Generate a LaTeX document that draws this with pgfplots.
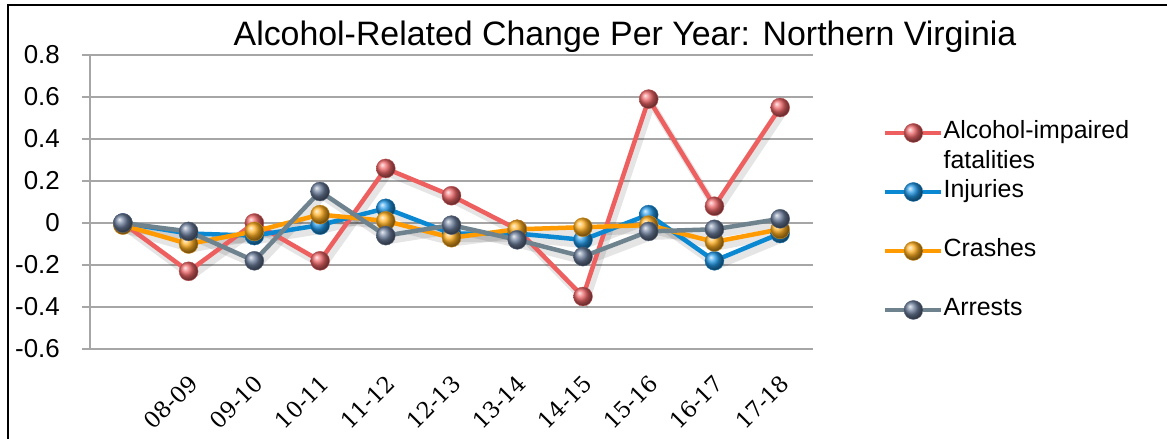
\documentclass[border=0pt]{standalone}
\usepackage{pgfplots}
\pgfplotsset{compat=1.18}
\usepackage{pgfplotstable}
\usepackage{fontspec}
\setmainfont{Liberation Sans}
\newfontfamily\xfont{DejaVu Serif}
\definecolor{cred}{HTML}{EE5F5F}
\definecolor{cblue}{HTML}{0A88D2}
\definecolor{corange}{HTML}{FF9A00}
\definecolor{cgray}{HTML}{6F838F}
\definecolor{bred}{HTML}{EC6466}
\definecolor{bblue}{HTML}{2096E4}
\definecolor{borange}{HTML}{FFAE20}
\definecolor{bgray}{HTML}{6A7C9A}
\definecolor{gridc}{HTML}{A6A6A6}
\pgfplotstableread{
x red blue orange gray
0 0 0 -0.01 0
1 -0.23 -0.05 -0.10 -0.04
2 0.00 -0.06 -0.04 -0.18
3 -0.18 -0.01 0.04 0.15
4 0.26 0.07 0.01 -0.06
5 0.13 -0.05 -0.07 -0.01
6 -0.03 -0.05 -0.03 -0.08
7 -0.35 -0.08 -0.02 -0.16
8 0.59 0.04 -0.01 -0.04
9 0.08 -0.18 -0.09 -0.03
10 0.55 -0.05 -0.03 0.02
}\data
\begin{document}
\begin{tikzpicture}
\begin{axis}[
  at={(90bp,-349bp)}, anchor=south west,
  scale only axis, width=723bp, height=294bp,
  xmin=-0.5, xmax=10.5, ymin=-0.6, ymax=0.8,
  ytick={-0.6,-0.4,-0.2,0,0.2,0.4,0.6,0.8},
  xtick={1,2,3,4,5,6,7,8,9,10},
  xticklabels={08-09,09-10,10-11,11-12,12-13,13-14,14-15,15-16,16-17,17-18},
  axis lines=left, axis line style={-, draw=gridc, line width=1.7bp},
  ymajorgrids, grid style={draw=gridc, line width=1.7bp},
  tick align=outside, major tick length=8bp,
  ytick style={draw=gridc, line width=1.7bp},
  xtick style={draw=none},
  /pgf/number format/assume math mode=true,
  y tick label style={font=\fontsize{26}{30}\selectfont, anchor=east, inner sep=0pt, xshift=-22bp},
  x tick label style={font=\xfont\fontsize{22.5}{27}\selectfont, yshift=-22bp, xshift=5bp, rotate=45, anchor=east, inner sep=0pt},
  legend style={at={(1.0968,0.773)}, anchor=north west, draw=none, fill=none, inner sep=0pt,
    row sep=37bp, column sep=0bp,
    nodes={inner sep=0pt, text height=17bp, text depth=5bp, font=\fontsize{25}{30}\selectfont}},
  legend cell align=left,
  legend image code/.code={\draw[mark repeat=2,mark phase=2,#1] plot coordinates {(0bp,0bp) (28bp,0bp) (56bp,0bp)};},
  clip=false,
]
\addplot[forget plot, draw=black, opacity=0.10, line width=7bp, xshift=3bp, yshift=-5bp] table[x=x,y=red]{\data};
\addplot[forget plot, draw=black, opacity=0.10, line width=7bp, xshift=3bp, yshift=-5bp] table[x=x,y=blue]{\data};
\addplot[forget plot, draw=black, opacity=0.10, line width=7bp, xshift=3bp, yshift=-5bp] table[x=x,y=orange]{\data};
\addplot[forget plot, draw=black, opacity=0.10, line width=7bp, xshift=3bp, yshift=-5bp] table[x=x,y=gray]{\data};
\addplot[cred, line width=4.5bp, mark=ball, mark size=9.5bp, mark options={line width=0.4bp, draw=bred!80!black, ball color=bred}] table[x=x,y=red]{\data};
\addlegendentry{{\begin{tabular}[t]{@{}l@{}}Alcohol-impaired\\fatalities\end{tabular}}}
\addplot[cblue, line width=4.5bp, mark=ball, mark size=9.5bp, mark options={line width=0.4bp, draw=bblue!80!black, ball color=bblue}] table[x=x,y=blue]{\data};
\addlegendentry{Injuries}
\addplot[corange, line width=4.5bp, mark=ball, mark size=9.5bp, mark options={line width=0.4bp, draw=borange!80!black, ball color=borange}] table[x=x,y=orange]{\data};
\addlegendentry{Crashes}
\addplot[cgray, line width=4.5bp, mark=ball, mark size=9.5bp, mark options={line width=0.4bp, draw=bgray!80!black, ball color=bgray}] table[x=x,y=gray]{\data};
\addlegendentry{Arrests}
\end{axis}
\node[font=\fontsize{34}{40}\selectfont, anchor=base] at (625bp,-45bp) {Alcohol-Related Change Per Year: Northern Virginia};
\draw[line width=2bp] (8bp,-470bp) -- (8bp,-5bp) -- (1200bp,-5bp);
\pgfresetboundingbox
\useasboundingbox (0bp,0bp) rectangle (1167bp,-439bp);
\end{tikzpicture}
\end{document}
